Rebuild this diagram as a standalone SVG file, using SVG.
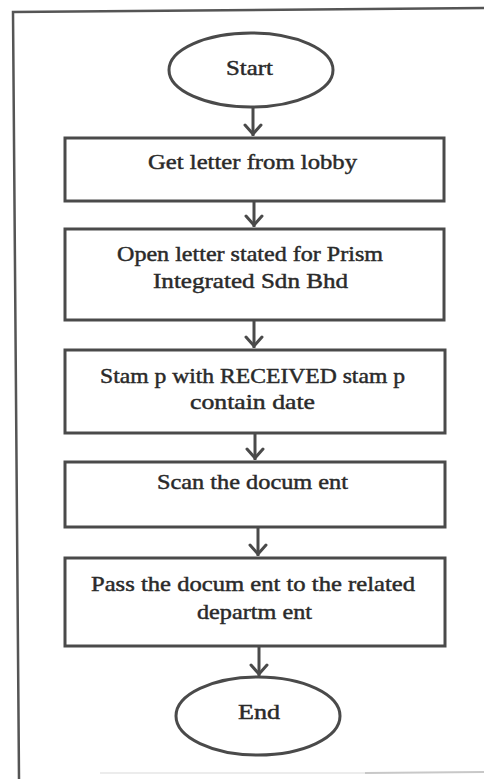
<svg xmlns="http://www.w3.org/2000/svg" width="484" height="779" viewBox="0 0 484 779">
  <style>
    .shape { fill: #ffffff; stroke: #4a4a4a; stroke-width: 3; }
    .frame { fill: none; stroke: #555555; stroke-width: 2.5; }
    .label { font-family: "Liberation Serif", "Times New Roman", serif; font-size: 21px; fill: #2a2a2a; text-anchor: middle; stroke: #2a2a2a; stroke-width: 0.45; }
    .link { stroke: #4a4a4a; stroke-width: 3; fill: none; }
    .head { stroke: #4a4a4a; stroke-width: 3; fill: none; stroke-linecap: round; stroke-linejoin: round; }
  </style>
  <rect width="484" height="779" fill="#ffffff"/>
  <!-- outer frame -->
  <path class="frame" d="M19 779 L13 12 L486 8"/>
  <path d="M100 773 L365 773" stroke="#ececec" stroke-width="2" fill="none"/>
  <path d="M365 773 L486 772" stroke="#c8c8c8" stroke-width="2" fill="none"/>

  <g id="connectors">
    <g>
      <line class="link" x1="253" y1="107" x2="253" y2="136"/>
      <polyline class="head" points="245,125 253,134 261,125"/>
    </g>
    <g>
      <line class="link" x1="254" y1="201" x2="254" y2="227"/>
      <polyline class="head" points="246,216 254,225 262,216"/>
    </g>
    <g>
      <line class="link" x1="254" y1="320" x2="254" y2="348"/>
      <polyline class="head" points="246,337 254,346 262,337"/>
    </g>
    <g>
      <line class="link" x1="255" y1="433" x2="255" y2="460"/>
      <polyline class="head" points="247,449 255,458 263,449"/>
    </g>
    <g>
      <line class="link" x1="258" y1="527" x2="258" y2="556"/>
      <polyline class="head" points="250,545 258,554 266,545"/>
    </g>
    <g>
      <line class="link" x1="259" y1="646" x2="259" y2="676"/>
      <polyline class="head" points="251,665 259,674 267,665"/>
    </g>
  </g>

  <g id="start">
    <ellipse class="shape" cx="251" cy="70" rx="82" ry="37"/>
    <text class="label" x="249.5" y="75" textLength="47" lengthAdjust="spacingAndGlyphs">Start</text>
  </g>

  <g id="get-letter">
    <rect class="shape" x="65" y="138" width="379" height="63"/>
    <text class="label" x="252.5" y="169" textLength="209" lengthAdjust="spacingAndGlyphs">Get letter from  lobby</text>
  </g>

  <g id="open-letter">
    <rect class="shape" x="65" y="229" width="379" height="91"/>
    <text class="label" x="250" y="261" textLength="266" lengthAdjust="spacingAndGlyphs">Open letter stated for Prism</text>
    <text class="label" x="250.5" y="288" textLength="195" lengthAdjust="spacingAndGlyphs">Integrated Sdn Bhd</text>
  </g>

  <g id="stamp">
    <rect class="shape" x="65" y="350" width="380" height="83"/>
    <text class="label" x="252.5" y="383" textLength="305" lengthAdjust="spacingAndGlyphs">Stam p with RECEIVED stam p</text>
    <text class="label" x="252.5" y="409" textLength="125" lengthAdjust="spacingAndGlyphs">contain date</text>
  </g>

  <g id="scan">
    <rect class="shape" x="65" y="462" width="380" height="65"/>
    <text class="label" x="252.5" y="489" textLength="191" lengthAdjust="spacingAndGlyphs">Scan the docum ent</text>
  </g>

  <g id="pass">
    <rect class="shape" x="65" y="558" width="380" height="88"/>
    <text class="label" x="253" y="591" textLength="324" lengthAdjust="spacingAndGlyphs">Pass the docum ent to the related</text>
    <text class="label" x="254.5" y="619" textLength="115" lengthAdjust="spacingAndGlyphs">departm ent</text>
  </g>

  <g id="end">
    <ellipse class="shape" cx="258" cy="716" rx="82" ry="39"/>
    <text class="label" x="259" y="719" textLength="42" lengthAdjust="spacingAndGlyphs">End</text>
  </g>
</svg>
